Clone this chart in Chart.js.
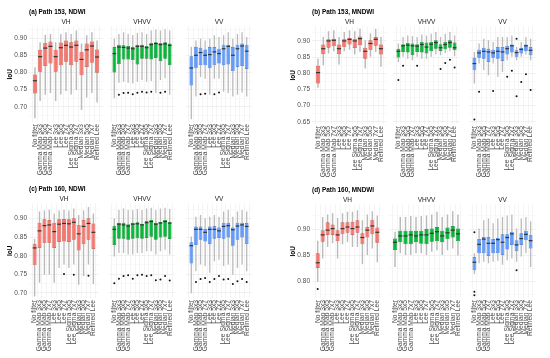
<!DOCTYPE html>
<html>
<head>
<meta charset="utf-8">
<script src="https://cdn.jsdelivr.net/npm/chart.js@4.4.0/dist/chart.umd.min.js"></script>
<style>
  body { margin: 0; background: #fff; width: 550px; height: 358px; position: relative; overflow: hidden; }
  .box { position: absolute; }
</style>
</head>
<body>
<script>
// ===============================
// DATA
// ===============================
const categories = ["No filter", "Gamma Map 3x3", "Gamma Map 5x5", "Gamma Map 7x7", "Lee 3x3", "Lee 5x5", "Lee 7x7",
  "Lee Sigma 5x5", "Lee Sigma 7x7", "Median 3x3", "Median 5x5", "Median 7x7", "Refined Lee"];
const facets = ["VH", "VHVV", "VV"];

// y-axis tick labels per panel
const ticksA = [0.70, 0.75, 0.80, 0.85, 0.90];
const ticksB = [0.65, 0.70, 0.75, 0.80, 0.85, 0.90];
const ticksC = [0.70, 0.75, 0.80, 0.85, 0.90];
const ticksD = [0.80, 0.85, 0.90];

// one row per category: [lower whisker, q1, median, q3, upper whisker]
const a_VH = [
  [0.667, 0.739, 0.776, 0.794, 0.815], [0.717, 0.802, 0.846, 0.866, 0.888], [0.735, 0.819, 0.871, 0.886, 0.910],
  [0.740, 0.826, 0.876, 0.890, 0.912], [0.717, 0.802, 0.846, 0.866, 0.888], [0.736, 0.821, 0.872, 0.887, 0.912],
  [0.746, 0.831, 0.879, 0.893, 0.917], [0.736, 0.821, 0.874, 0.888, 0.912], [0.749, 0.831, 0.879, 0.893, 0.922],
  [0.691, 0.792, 0.838, 0.860, 0.884], [0.727, 0.816, 0.866, 0.884, 0.908], [0.740, 0.828, 0.877, 0.890, 0.917],
  [0.713, 0.799, 0.845, 0.867, 0.893]];
const a_VHVV = [
  [0.725, 0.800, 0.855, 0.874, 0.898], [0.770, 0.824, 0.874, 0.881, 0.912], [0.773, 0.838, 0.873, 0.879, 0.917],
  [0.770, 0.838, 0.871, 0.877, 0.912], [0.768, 0.836, 0.869, 0.874, 0.909], [0.773, 0.823, 0.876, 0.881, 0.915],
  [0.778, 0.840, 0.876, 0.881, 0.917], [0.773, 0.840, 0.872, 0.877, 0.912], [0.775, 0.838, 0.881, 0.886, 0.922],
  [0.740, 0.842, 0.884, 0.888, 0.925], [0.778, 0.833, 0.881, 0.886, 0.922], [0.783, 0.840, 0.883, 0.888, 0.926],
  [0.735, 0.821, 0.879, 0.884, 0.922]];
const a_VV = [
  [0.664, 0.762, 0.813, 0.847, 0.874], [0.730, 0.812, 0.850, 0.874, 0.893], [0.787, 0.821, 0.858, 0.872, 0.898],
  [0.782, 0.821, 0.850, 0.867, 0.893], [0.735, 0.812, 0.852, 0.874, 0.898], [0.782, 0.821, 0.860, 0.874, 0.908],
  [0.782, 0.826, 0.855, 0.869, 0.903], [0.744, 0.821, 0.869, 0.881, 0.908], [0.740, 0.823, 0.876, 0.881, 0.917],
  [0.730, 0.804, 0.850, 0.874, 0.898], [0.735, 0.816, 0.869, 0.881, 0.912], [0.742, 0.819, 0.877, 0.884, 0.917],
  [0.730, 0.810, 0.862, 0.881, 0.903]];

const b_VH = [
  [0.755, 0.768, 0.802, 0.823, 0.845], [0.825, 0.859, 0.876, 0.889, 0.912], [0.861, 0.879, 0.900, 0.905, 0.930],
  [0.868, 0.884, 0.902, 0.907, 0.933], [0.827, 0.859, 0.876, 0.889, 0.912], [0.868, 0.881, 0.900, 0.905, 0.928],
  [0.873, 0.889, 0.905, 0.910, 0.933], [0.858, 0.878, 0.900, 0.907, 0.930], [0.866, 0.887, 0.907, 0.914, 0.938],
  [0.815, 0.845, 0.868, 0.879, 0.902], [0.851, 0.873, 0.892, 0.902, 0.923], [0.866, 0.885, 0.905, 0.912, 0.938],
  [0.820, 0.858, 0.876, 0.889, 0.912]];
const b_VHVV = [
  [0.835, 0.849, 0.868, 0.876, 0.892], [0.851, 0.866, 0.885, 0.890, 0.912], [0.845, 0.864, 0.887, 0.894, 0.917],
  [0.840, 0.856, 0.885, 0.892, 0.915], [0.851, 0.866, 0.884, 0.890, 0.912], [0.845, 0.864, 0.889, 0.897, 0.920],
  [0.845, 0.861, 0.881, 0.895, 0.917], [0.851, 0.868, 0.890, 0.897, 0.922], [0.858, 0.876, 0.895, 0.902, 0.928],
  [0.856, 0.869, 0.879, 0.890, 0.912], [0.863, 0.874, 0.889, 0.897, 0.922], [0.868, 0.879, 0.895, 0.902, 0.928],
  [0.853, 0.871, 0.879, 0.895, 0.917]];
const b_VV = [
  [0.768, 0.809, 0.830, 0.848, 0.866], [0.830, 0.848, 0.863, 0.873, 0.892], [0.810, 0.845, 0.868, 0.879, 0.907],
  [0.794, 0.835, 0.866, 0.876, 0.902], [0.830, 0.848, 0.863, 0.873, 0.897], [0.789, 0.845, 0.868, 0.881, 0.912],
  [0.804, 0.838, 0.866, 0.881, 0.912], [0.840, 0.858, 0.876, 0.885, 0.912], [0.851, 0.864, 0.885, 0.889, 0.917],
  [0.840, 0.851, 0.864, 0.871, 0.881], [0.851, 0.861, 0.874, 0.879, 0.897], [0.858, 0.868, 0.885, 0.889, 0.912],
  [0.840, 0.856, 0.871, 0.881, 0.907]];

const c_VH = [
  [0.690, 0.774, 0.821, 0.832, 0.845], [0.727, 0.821, 0.867, 0.889, 0.919], [0.749, 0.834, 0.881, 0.898, 0.922],
  [0.749, 0.834, 0.883, 0.896, 0.924], [0.727, 0.821, 0.865, 0.889, 0.914], [0.767, 0.837, 0.885, 0.898, 0.922],
  [0.776, 0.838, 0.887, 0.899, 0.924], [0.767, 0.837, 0.886, 0.898, 0.922], [0.776, 0.843, 0.890, 0.901, 0.927],
  [0.722, 0.814, 0.859, 0.883, 0.910], [0.745, 0.831, 0.879, 0.896, 0.922], [0.776, 0.843, 0.887, 0.901, 0.931],
  [0.724, 0.818, 0.863, 0.887, 0.914]];
const c_VHVV = [
  [0.798, 0.829, 0.871, 0.881, 0.900], [0.807, 0.846, 0.885, 0.889, 0.923], [0.807, 0.846, 0.883, 0.889, 0.927],
  [0.803, 0.843, 0.880, 0.885, 0.923], [0.803, 0.846, 0.885, 0.889, 0.923], [0.807, 0.847, 0.886, 0.890, 0.926],
  [0.807, 0.846, 0.883, 0.886, 0.923], [0.812, 0.848, 0.889, 0.894, 0.927], [0.812, 0.851, 0.892, 0.896, 0.929],
  [0.803, 0.843, 0.885, 0.889, 0.923], [0.812, 0.849, 0.888, 0.891, 0.927], [0.816, 0.851, 0.892, 0.896, 0.929],
  [0.803, 0.845, 0.888, 0.890, 0.926]];
const c_VV = [
  [0.699, 0.779, 0.827, 0.836, 0.852], [0.758, 0.829, 0.871, 0.879, 0.905], [0.776, 0.843, 0.871, 0.879, 0.910],
  [0.772, 0.838, 0.863, 0.872, 0.901], [0.754, 0.831, 0.871, 0.879, 0.905], [0.785, 0.846, 0.871, 0.880, 0.910],
  [0.789, 0.848, 0.867, 0.876, 0.905], [0.772, 0.846, 0.879, 0.889, 0.919], [0.776, 0.849, 0.881, 0.889, 0.923],
  [0.749, 0.827, 0.870, 0.876, 0.905], [0.767, 0.843, 0.880, 0.889, 0.919], [0.776, 0.849, 0.883, 0.889, 0.923],
  [0.758, 0.831, 0.879, 0.888, 0.919]];

const d_VH = [
  [0.800, 0.826, 0.836, 0.854, 0.878], [0.844, 0.876, 0.889, 0.898, 0.923], [0.866, 0.889, 0.898, 0.913, 0.928],
  [0.873, 0.889, 0.901, 0.909, 0.930], [0.844, 0.877, 0.889, 0.898, 0.921], [0.871, 0.890, 0.901, 0.913, 0.930],
  [0.876, 0.893, 0.904, 0.913, 0.933], [0.866, 0.889, 0.901, 0.914, 0.933], [0.866, 0.893, 0.904, 0.917, 0.936],
  [0.833, 0.871, 0.884, 0.892, 0.917], [0.851, 0.884, 0.898, 0.904, 0.928], [0.863, 0.890, 0.906, 0.918, 0.934],
  [0.837, 0.874, 0.894, 0.903, 0.926]];
const d_VHVV = [
  [0.828, 0.860, 0.875, 0.882, 0.895], [0.854, 0.875, 0.887, 0.897, 0.923], [0.851, 0.871, 0.887, 0.897, 0.923],
  [0.851, 0.871, 0.889, 0.897, 0.925], [0.854, 0.875, 0.887, 0.897, 0.923], [0.854, 0.872, 0.889, 0.897, 0.925],
  [0.851, 0.871, 0.889, 0.900, 0.926], [0.857, 0.876, 0.892, 0.901, 0.928], [0.860, 0.877, 0.895, 0.904, 0.933],
  [0.851, 0.875, 0.887, 0.897, 0.923], [0.860, 0.881, 0.893, 0.903, 0.928], [0.863, 0.884, 0.898, 0.906, 0.934],
  [0.850, 0.877, 0.891, 0.901, 0.928]];
const d_VV = [
  [0.814, 0.822, 0.837, 0.847, 0.854], [0.835, 0.854, 0.871, 0.881, 0.901], [0.838, 0.854, 0.881, 0.885, 0.917],
  [0.835, 0.849, 0.873, 0.885, 0.920], [0.838, 0.854, 0.873, 0.881, 0.911], [0.840, 0.854, 0.880, 0.883, 0.920],
  [0.832, 0.851, 0.875, 0.890, 0.923], [0.841, 0.861, 0.884, 0.890, 0.926], [0.844, 0.870, 0.891, 0.895, 0.928],
  [0.838, 0.858, 0.870, 0.879, 0.901], [0.848, 0.870, 0.882, 0.892, 0.920], [0.854, 0.879, 0.890, 0.897, 0.923],
  [0.828, 0.863, 0.878, 0.889, 0.915]];

// outliers: [category index, value]
const a_VH_out = [];
const a_VHVV_out = [[1, 0.735], [2, 0.740], [3, 0.741], [4, 0.737], [5, 0.741], [6, 0.744], [7, 0.742], [8, 0.744], [10, 0.741], [11, 0.744]];
const a_VV_out = [[2, 0.737], [3, 0.738], [5, 0.737], [6, 0.742]];
const b_VH_out = [];
const b_VHVV_out = [[0, 0.779], [1, 0.823], [4, 0.823], [9, 0.813], [10, 0.832], [11, 0.842], [12, 0.818]];
const b_VV_out = [[0, 0.657], [1, 0.743], [4, 0.745], [7, 0.789], [8, 0.808], [9, 0.907], [9, 0.729], [10, 0.773], [11, 0.797], [12, 0.748]];
const c_VH_out = [[6, 0.751], [8, 0.749], [11, 0.746]];
const c_VHVV_out = [[0, 0.726], [1, 0.738], [2, 0.745], [3, 0.747], [4, 0.738], [5, 0.747], [6, 0.749], [7, 0.745], [8, 0.747], [9, 0.734], [10, 0.736], [11, 0.745], [12, 0.733]];
const c_VV_out = [[1, 0.729], [2, 0.737], [3, 0.740], [4, 0.729], [5, 0.737], [6, 0.745], [7, 0.736], [8, 0.737], [9, 0.724], [10, 0.731], [11, 0.737], [12, 0.729]];
const d_VH_out = [[0, 0.786]];
const d_VHVV_out = [];
const d_VV_out = [[0, 0.894], [0, 0.781], [0, 0.774], [9, 0.822]];

// ===============================
// LAYOUT / STYLE
// ===============================
const FONT = "'Liberation Sans', Arial, sans-serif";
const FILL = ["#F8766D", "#00BA38", "#619CFF"];
const EDGE = ["#c2574f", "#16892f", "#4a7bd0"];
const WHISKER = "#bababa";
const MEDIAN = "#333333";
const YW = 25;     // width of y-axis area on first facet
const XH = 60;     // height of x-axis label area
const HEAD = 17.4; // panel title + strip label above each plot

const panels = [
  { title: "(a) Path 153, NDWI", lefts: [29, 105, 182], fw: 74, top: 26, bottom: 122, min: 0.656, max: 0.934,
    ticks: ticksA, sets: [a_VH, a_VHVV, a_VV], outs: [a_VH_out, a_VHVV_out, a_VV_out] },
  { title: "(b) Path 153, MNDWI", lefts: [312, 389, 465], fw: 75, top: 26, bottom: 124, min: 0.643, max: 0.945,
    ticks: ticksB, sets: [b_VH, b_VHVV, b_VV], outs: [b_VH_out, b_VHVV_out, b_VV_out] },
  { title: "(c) Path 160, NDWI", lefts: [29, 105, 182], fw: 74, top: 203, bottom: 298, min: 0.686, max: 0.941,
    ticks: ticksC, sets: [c_VH, c_VHVV, c_VV], outs: [c_VH_out, c_VHVV_out, c_VV_out] },
  { title: "(d) Path 160, MNDWI", lefts: [312, 389, 465], fw: 75, top: 204, bottom: 298, min: 0.769, max: 0.947,
    ticks: ticksD, sets: [d_VH, d_VHVV, d_VV], outs: [d_VH_out, d_VHVV_out, d_VV_out] }
];

// ===============================
// MEDIAN LINES
// ===============================
const medianPlugin = {
  id: "medians",
  afterDatasetsDraw(chart) {
    const ds = chart.data.datasets[1];
    const meta = chart.getDatasetMeta(1);
    const y = chart.scales.y;
    const ctx = chart.ctx;
    ctx.save();
    ctx.strokeStyle = MEDIAN;
    ctx.lineWidth = 1.2;
    meta.data.forEach((bar, i) => {
      const py = y.getPixelForValue(ds.medians[i]);
      ctx.beginPath();
      ctx.moveTo(bar.x - bar.width / 2, py);
      ctx.lineTo(bar.x + bar.width / 2, py);
      ctx.stroke();
    });
    ctx.restore();
  }
};

function makeFacet(p, f) {
  const first = f === 0;
  const yw = first ? YW : 0;
  const plotH = p.bottom - p.top;
  const rows = p.sets[f];
  const majors = p.ticks;
  // minor grid halfway between major breaks
  const minors = [];
  const step = majors[1] - majors[0];
  for (let v = majors[0] - step / 2; v < p.max; v += step) if (v > p.min) minors.push(+v.toFixed(4));
  const allTicks = majors.concat(minors).sort((a, b) => a - b);
  const isMajor = v => majors.some(m => Math.abs(m - v) < 1e-6);

  const wrap = document.createElement("div");
  wrap.className = "box";
  wrap.style.left = (p.lefts[f] - yw) + "px";
  wrap.style.top = (p.top - HEAD) + "px";
  const cv = document.createElement("canvas");
  cv.width = p.fw + yw;
  cv.height = Math.round(plotH + XH + HEAD);
  cv.style.width = cv.width + "px";
  cv.style.height = cv.height + "px";
  wrap.appendChild(cv);
  document.body.appendChild(wrap);

  new Chart(cv.getContext("2d"), {
    type: "bar",
    data: {
      datasets: [
        { type: "bar", data: rows.map((r, i) => ({ x: i, y: [r[0], r[4]] })), backgroundColor: WHISKER,
          barPercentage: 0.28, categoryPercentage: 1, grouped: false, order: 3 },
        { type: "bar", data: rows.map((r, i) => ({ x: i, y: [r[1], r[3]] })), medians: rows.map(r => r[2]),
          backgroundColor: FILL[f], borderColor: EDGE[f], borderWidth: 0.7, borderSkipped: false,
          barPercentage: 0.8, categoryPercentage: 1, grouped: false, order: 2 },
        { type: "line", data: p.outs[f].map(o => ({ x: o[0], y: o[1] })), showLine: false,
          pointRadius: 1, pointBackgroundColor: "#111", pointBorderWidth: 0, order: 1 }
      ]
    },
    options: {
      responsive: false,
      devicePixelRatio: 1,
      animation: false,
      layout: { padding: 0 },
      plugins: {
        legend: { display: false },
        tooltip: { enabled: false },
        title: { display: true, text: first ? p.title : "", align: "start", fullSize: false, color: "#000",
                 padding: { top: 0, bottom: 3.5 }, font: { family: FONT, size: 6.4, weight: "bold", lineHeight: 1 } },
        subtitle: { display: true, text: facets[f], fullSize: false, color: "#1a1a1a",
                    padding: { top: 0, bottom: 1 }, font: { family: FONT, size: 6.5, lineHeight: 1 } }
      },
      scales: {
        x: {
          type: "linear", min: -0.6, max: 12.6,
          afterBuildTicks: s => { s.ticks = categories.map((c, i) => ({ value: i })); },
          afterFit: s => { s.height = XH; s.paddingLeft = 0; s.paddingRight = 0; },
          ticks: { autoSkip: false, minRotation: 90, maxRotation: 90, padding: 2, color: "#4d4d4d",
                   font: { family: FONT, size: 6.7 }, callback: v => categories[v] },
          grid: { color: "#ececec", lineWidth: 0.6, drawTicks: false },
          border: { display: false }
        },
        y: {
          min: p.min, max: p.max,
          afterBuildTicks: s => { s.ticks = allTicks.map(v => ({ value: v })); },
          afterFit: s => { s.width = yw; s.paddingTop = 0; s.paddingBottom = 0; },
          ticks: { display: first, autoSkip: false, padding: 2, color: "#4d4d4d", font: { family: FONT, size: 6.5 },
                   callback: v => isMajor(v) ? v.toFixed(2) : "" },
          grid: { drawTicks: false, lineWidth: 0.6, color: c => (c.tick && isMajor(c.tick.value)) ? "#e8e8e8" : "#f4f4f4" },
          border: { display: false },
          title: { display: first, text: "IoU", color: "#000", padding: { top: 2, bottom: 0 },
                   font: { family: FONT, size: 6.5, weight: "bold" } }
        }
      }
    },
    plugins: [medianPlugin]
  });
}

panels.forEach(p => facets.forEach((f, i) => makeFacet(p, i)));
</script>
</body>
</html>
